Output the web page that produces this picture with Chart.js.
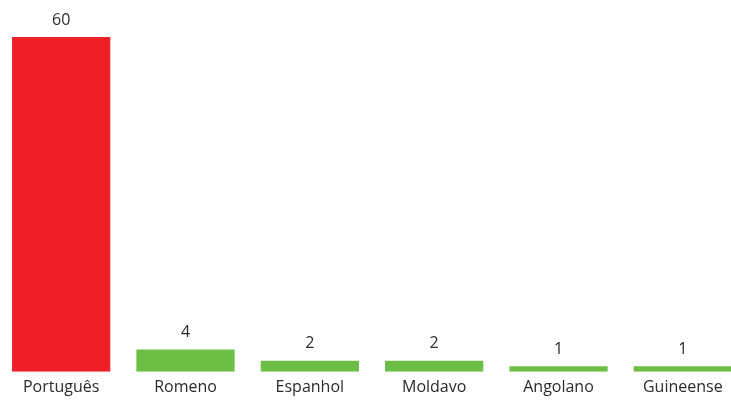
<!DOCTYPE html>
<html>
<head>
<meta charset="utf-8">
<script src="https://cdn.jsdelivr.net/npm/chart.js@4"></script>
<style>
  html, body { margin: 0; padding: 0; background: #fff; overflow: hidden; }
  .chart-container { position: absolute; left: -1px; top: 0; width: 746px; height: 407px; }
</style>
</head>
<body>
<div class="chart-container"><canvas id="natChart"></canvas></div>
<script>
const categories = ["Português", "Romeno", "Espanhol", "Moldavo", "Angolano", "Guineense"];
const counts = [60, 4, 2, 2, 1, 1];
const barColors = ["#EE1F26", "#6CBE45", "#6CBE45", "#6CBE45", "#6CBE45", "#6CBE45"];

// draws the value above each bar
const valueLabels = {
  id: "valueLabels",
  afterDatasetsDraw(chart) {
    const ctx = chart.ctx;
    const meta = chart.getDatasetMeta(0);
    ctx.save();
    ctx.font = "16px 'Open Sans', sans-serif";
    ctx.fillStyle = "#2b2b2b";
    ctx.textAlign = "center";
    ctx.textBaseline = "middle";
    meta.data.forEach((bar, i) => {
      ctx.fillText(String(counts[i]), bar.x, bar.y - 17);
    });
    ctx.restore();
  },
};

new Chart(document.getElementById("natChart").getContext("2d"), {
  type: "bar",
  data: {
    labels: categories,
    datasets: [
      {
        data: counts,
        backgroundColor: barColors,
        borderWidth: 0,
        barPercentage: 0.79,
        categoryPercentage: 1,
      },
    ],
  },
  options: {
    responsive: true,
    maintainAspectRatio: false,
    animation: false,
    layout: { padding: { top: 37, bottom: 4, left: 0, right: 0 } },
    plugins: { legend: { display: false }, tooltip: { enabled: false } },
    scales: {
      y: { display: false, min: 0, max: 60 },
      x: {
        grid: { display: false, drawTicks: false },
        border: { display: false },
        ticks: {
          color: "#2b2b2b",
          padding: 6,
          maxRotation: 0,
          font: { family: "'Open Sans', sans-serif", size: 16 },
        },
      },
    },
  },
  plugins: [valueLabels],
});
</script>
</body>
</html>
